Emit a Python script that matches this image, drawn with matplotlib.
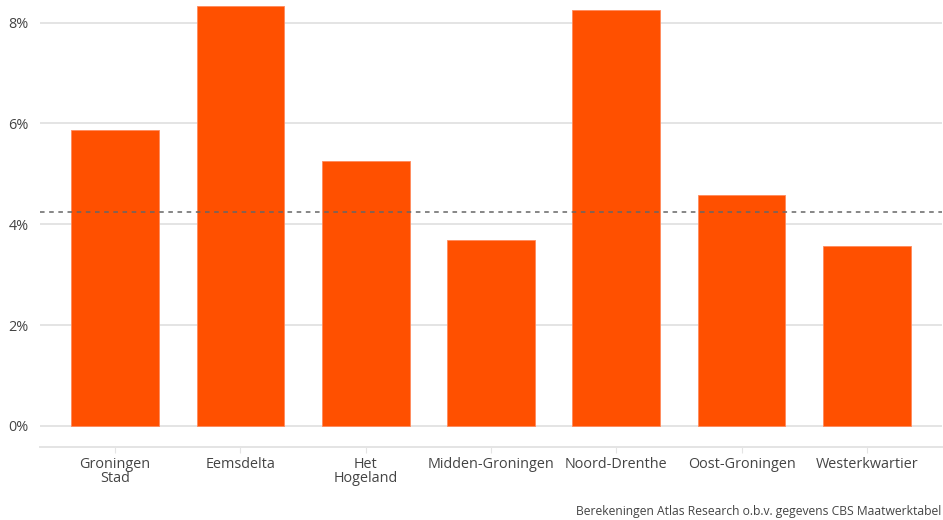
import matplotlib.pyplot as plt
from matplotlib.ticker import FuncFormatter

# Data (percent)
gemeenten = ["Groningen\nStad", "Eemsdelta", "Het\nHogeland", "Midden-Groningen",
             "Noord-Drenthe", "Oost-Groningen", "Westerkwartier"]
percentages = [5.87, 8.33, 5.26, 3.69, 8.25, 4.58, 3.57]
gemiddelde = 4.25
y_ticks = [0, 2, 4, 6, 8]
bron = "Berekeningen Atlas Research o.b.v. gegevens CBS Maatwerktabel"

plt.rcParams['font.family'] = ['Open Sans', 'DejaVu Sans']

fig = plt.figure(figsize=(9.43, 5.2), dpi=100)
ax = fig.add_axes([40 / 943, 1 - 447 / 520, 1 - 41 / 943, 447 / 520])

x = range(len(gemeenten))
ax.bar(x, percentages, width=0.7, color="#ff5000", edgecolor="#ff8a5c", linewidth=0.6, zorder=2)

# average line
ax.axhline(gemiddelde, color="#666666", linestyle=(0, (3, 3)), linewidth=1.1, zorder=3)

ax.set_xlim(-0.6, len(gemeenten) - 0.4)
ax.set_ylim(-0.42, 8.45)
ax.set_yticks(y_ticks)
ax.yaxis.set_major_formatter(FuncFormatter(lambda v, p: f"{v:.0f}%"))
ax.set_xticks(list(x))
ax.set_xticklabels(gemeenten)

ax.grid(axis="y", color="#e4e4e4", linewidth=1.4, zorder=0)
ax.set_axisbelow(True)

for side in ["top", "right", "left"]:
    ax.spines[side].set_visible(False)
ax.spines["bottom"].set_color("#e4e4e4")
ax.spines["bottom"].set_linewidth(1.4)

ax.tick_params(axis="y", length=0, pad=8, labelsize=10.4, labelcolor="#444444")
ax.tick_params(axis="x", length=4, color="#e4e4e4", pad=3, labelsize=10.4, labelcolor="#444444")
for lbl in ax.get_xticklabels():
    lbl.set_linespacing(0.95)

fig.text(941 / 943, 2 / 520, bron, ha="right", va="bottom", fontsize=8.7, color="#444444")

fig.savefig("out.png", dpi=100)
